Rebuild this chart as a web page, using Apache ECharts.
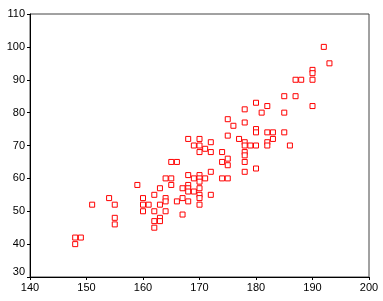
<!DOCTYPE html>
<html><head><meta charset="utf-8">
<script src="https://cdn.jsdelivr.net/npm/echarts@6/dist/echarts.min.js"></script>
<style>html,body{margin:0;padding:0;background:#fff}#c{width:383px;height:301px}</style>
</head><body><div id="c"></div>
<script>
const xTicks = [140,150,160,170,180,190,200];
const yTicks = [30,40,50,60,70,80,90,100,110];
const heightCols = [148,149,151,154,155,159,160,161,162,163,164,165,166,167,168,169,170,171,172,174,175,176,177,178,179,180,181,182,183,185,186,187,188,190,192,193];
const weightCols = [
  [42,40],[42],[52],[54],[52,48,46],[58],[54,52,50],[52],[55,50,47,45],[57,52,48,47],
  [60,54,53,50],[65,60,58],[65,53],[57,54,49],[72,61,58,57,56,53],[70,60,56],
  [72,70,68,61,60,59,57,55,54,52],[69,60],[71,68,62,55],[68,65,60],[78,73,66,64,60],
  [76],[72],[81,77,71,70,68,67,65,62],[70],[83,75,74,70,63],[80],[82,74,71,70],[74,72],
  [85,80,74],[70],[90,85],[90],[93,92,90,82],[100],[95]
];
const points = [];
heightCols.forEach((h,i)=>weightCols[i].forEach(w=>points.push([h,w])));
const chart = echarts.init(document.getElementById('c'), null, {renderer:'canvas'});
const axisCommon = {
  axisLine:{show:true,onZero:false,lineStyle:{color:'#000',width:1}},
  axisTick:{show:true,length:3,lineStyle:{color:'#000',width:1}},
  splitLine:{show:false},
  axisLabel:{color:'#000',fontFamily:'Liberation Sans, Arial, sans-serif',fontSize:11}
};
chart.setOption({
  animation:false,
  grid:{left:30,right:14,top:14,bottom:24,show:true,borderColor:'#444',borderWidth:1,backgroundColor:'#fff'},
  xAxis:Object.assign({type:'value',min:xTicks[0],max:xTicks[xTicks.length-1],interval:10},axisCommon,{
    axisLabel:Object.assign({},axisCommon.axisLabel,{margin:5})}),
  yAxis:Object.assign({type:'value',min:yTicks[0],max:yTicks[yTicks.length-1],interval:10},axisCommon,{
    axisLabel:Object.assign({},axisCommon.axisLabel,{margin:5,verticalAlignMinLabel:'bottom'})}),
  series:[{
    type:'scatter',
    data:points,
    symbol:'rect',
    symbolSize:5,
    itemStyle:{color:'#fff',borderColor:'#ff0000',borderWidth:1,opacity:1}
  }]
});
</script></body></html>
